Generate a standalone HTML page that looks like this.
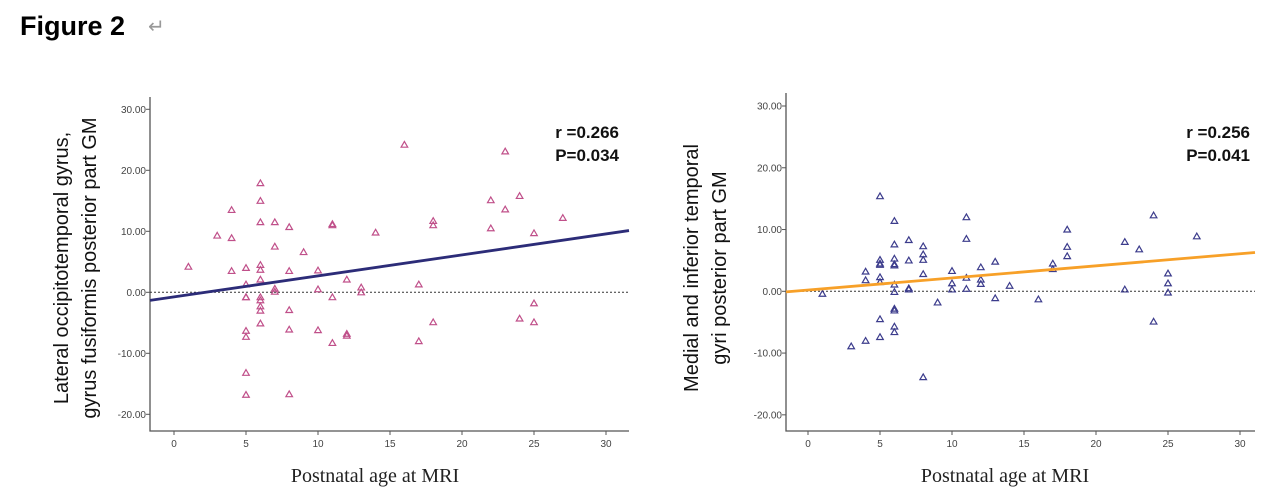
<!DOCTYPE html>
<html><head><meta charset="utf-8"><style>
html,body{margin:0;padding:0;background:#fff;width:1280px;height:504px;overflow:hidden}
svg{display:block}
text{font-family:"Liberation Sans",sans-serif}
text.serif{font-family:"Liberation Serif",serif}
</style></head><body>
<svg id="fig" width="1280" height="504" viewBox="0 0 1280 504">
<text x="20" y="35" font-size="27" font-weight="bold" fill="#000">Figure 2</text>
<text x="148" y="33" font-size="20" fill="#999">↵</text>
<g id="p1"></g>
<g id="p2"></g>
</svg>
<script>
const xTicks=[0,5,10,15,20,25,30];
const yTicks=[-20,-10,0,10,20,30];
const yTickLabels=["-20.00","-10.00","0.00","10.00","20.00","30.00"];
const leftAges=[1,3,4,4,4,5,5,5,5,5,5,5,5,6,6,6,6,6,6,6,6,6,6,6,7,7,7,7,8,8,8,8,8,9,10,10,10,11,11,11,11,12,12,12,13,13,14,16,17,17,18,18,18,22,22,23,23,24,24,25,25,25,27];
const leftValues=[4.2,9.3,13.5,8.9,3.5,4,1.3,-0.8,-0.8,-6.3,-7.3,-13.2,-16.8,17.9,15,11.5,4.5,3.7,2.1,-0.8,-1.3,-2.3,-3,-5.1,11.5,7.5,0.6,0.1,10.7,3.5,-2.9,-6.1,-16.7,6.6,3.6,0.5,-6.2,11.2,11,-0.8,-8.3,2.1,-6.8,-7.1,0.8,0,9.8,24.2,1.3,-8,11.7,11,-4.9,15.1,10.5,23.1,13.6,15.8,-4.3,9.7,-1.8,-4.9,12.2];
const leftFit=[-0.75,0.344];
const rightAges=[1,3,4,4,4,5,5,5,5,5,5,5,5,6,6,6,6,6,6,6,6,6,6,6,7,7,7,7,8,8,8,8,8,9,10,10,10,11,11,11,11,12,12,12,13,13,14,16,17,17,18,18,18,22,22,23,24,24,25,25,25,27];
const rightValues=[-0.4,-8.9,3.2,1.8,-8,15.4,5.1,4.5,4.3,2.3,1.5,-4.5,-7.4,11.4,7.6,5.3,4.4,4.2,1.1,-0.1,-2.8,-3.1,-5.7,-6.6,8.3,5,0.5,0.3,7.3,6,5.1,2.8,-13.9,-1.8,3.3,1.3,0.3,12,8.5,2.2,0.4,3.9,1.9,1.2,4.8,-1.1,0.9,-1.3,4.5,3.6,10,7.2,5.7,8,0.3,6.8,12.3,-4.9,2.9,1.3,-0.2,8.9];
const rightFit=[0.2,0.196];

const NS="http://www.w3.org/2000/svg";
function mk(parent,tag,attrs){const e=document.createElementNS(NS,tag);for(const k in attrs)e.setAttribute(k,attrs[k]);parent.appendChild(e);return e;}

function chart(g,cfg){
  const kx=(cfg.x30-cfg.x0)/30;
  const sx=v=>cfg.x0+v*kx;
  const sy=v=>cfg.y0+v*(cfg.y30-cfg.y0)/30;
  const xmin=(cfg.left-cfg.x0)/kx, xmax=(cfg.right-cfg.x0)/kx;
  let a=mk(g,'path',{d:`M${cfg.left},${cfg.top} V${cfg.bottom} H${cfg.right}`,fill:'none',stroke:'#555','stroke-width':1.3});
  
  
  yTicks.forEach((t,i)=>{
    const y=sy(t);
    let l=mk(g,'line',{x1:cfg.left-4,x2:cfg.left,y1:y,y2:y,stroke:'#555'});
    
    
    let tx=mk(g,'text',{x:cfg.left-4,y:y+3.5,'font-size':10,'text-anchor':'end',fill:'#444'});
    tx.textContent=yTickLabels[i];
    
    
  });
  xTicks.forEach(t=>{
    const x=sx(t);
    let l=mk(g,'line',{x1:x,x2:x,y1:cfg.bottom,y2:cfg.bottom+4,stroke:'#555'});
    
    
    let tx=mk(g,'text',{x:x,y:cfg.bottom+16,'font-size':10,'text-anchor':'middle',fill:'#444'});
    tx.textContent=t;
    
    
  });
  let z=mk(g,'line',{x1:cfg.left,x2:cfg.right,y1:sy(0),y2:sy(0),stroke:'#333','stroke-dasharray':'2,2','stroke-width':1});
  
  
  cfg.xs.forEach((xv,i)=>{
    const x=sx(xv),y=sy(cfg.ys[i]);
    let p=mk(g,'path',{d:`M${x},${y-3.2} L${x+3.3},${y+2.5} L${x-3.3},${y+2.5} Z`,fill:'none',stroke:cfg.mc,'stroke-width':1.2});
    
    
  });
  let f=mk(g,'line',{x1:cfg.left,y1:sy(cfg.fit[0]+cfg.fit[1]*xmin),x2:cfg.right,y2:sy(cfg.fit[0]+cfg.fit[1]*xmax),stroke:cfg.lc,'stroke-width':2.8});
  
  
  cfg.stats.forEach((s,i)=>{
    let t=mk(g,'text',{x:cfg.statX,y:138+i*23,'font-size':17,'font-weight':'bold','text-anchor':'end',fill:'#111'});
    t.textContent=s;
    
    
  });
  let xt=mk(g,'text',{x:cfg.xtx,y:482,'font-size':20,'text-anchor':'middle',fill:'#222','class':'serif'});
  xt.textContent='Postnatal age at MRI';
  
  
  let yt=mk(g,'text',{transform:`translate(${cfg.ytx},268) rotate(-90)`,'font-size':20,'text-anchor':'middle',fill:'#111'});
  
  
  cfg.ytitle.forEach((s,i)=>{let ts=mk(yt,'tspan',{x:0,dy:i?28:0});ts.textContent=s;});
}
chart(document.getElementById('p1'),{left:150,right:629,top:97,bottom:431,x0:174,x30:606,y0:292.3,y30:109.3,
  xs:leftAges,ys:leftValues,fit:leftFit,mc:'#c0508a',lc:'#2c2c78',stats:['r =0.266','P=0.034'],statX:619,ytx:68,xtx:375,
  ytitle:['Lateral occipitotemporal gyrus,','gyrus fusiformis posterior part GM']});
chart(document.getElementById('p2'),{left:786,right:1255,top:93,bottom:431,x0:808,x30:1240,y0:291.3,y30:106,
  xs:rightAges,ys:rightValues,fit:rightFit,mc:'#3c3c8c',lc:'#f7a028',stats:['r =0.256','P=0.041'],statX:1250,ytx:698,xtx:1005,
  ytitle:['Medial and inferior temporal','gyri posterior part GM']});
</script>
</body></html>
